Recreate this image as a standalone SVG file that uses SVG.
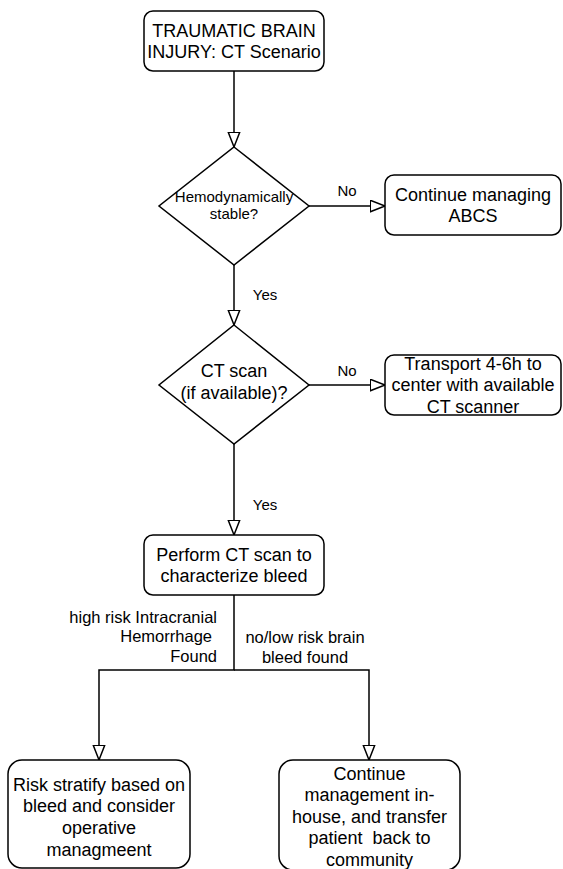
<svg xmlns="http://www.w3.org/2000/svg" width="563" height="869" viewBox="0 0 563 869">
<style>
text{font-family:"Liberation Sans",Arial,Helvetica,sans-serif;fill:#000;}
.n{font-size:18px;text-anchor:middle;}
.d{font-size:15px;text-anchor:middle;}
.e{font-size:15px;text-anchor:middle;}
.l{font-size:16.5px;}
.box{fill:#fff;stroke:#000;stroke-width:1.5;}
.edge{fill:none;stroke:#000;stroke-width:1.5;marker-end:url(#arr);}
</style>
<defs>
<marker id="arr" markerUnits="userSpaceOnUse" markerWidth="18" markerHeight="14" refX="15.5" refY="6.5" orient="auto" viewBox="0 0 18 14">
<path d="M0.75,0.75 L15.5,6.5 L0.75,12.25 Z" fill="#fff" stroke="#000" stroke-width="1.5"/>
</marker>
</defs>
<rect width="563" height="869" fill="#fff"/>
<g id="connectors">
<path class="edge" d="M234,71 V147"/>
<path class="edge" d="M234,265 V325"/>
<path class="edge" d="M309,206 H385"/>
<path class="edge" d="M309,385 H385"/>
<path class="edge" d="M234,444 V535"/>
<path class="edge" d="M234,595 V670 H99 V760"/>
<path class="edge" d="M234,670 H369 V760"/>
<text class="e" x="347" y="196">No</text>
<text class="e" x="347" y="376">No</text>
<text class="e" x="265" y="300">Yes</text>
<text class="e" x="265" y="510">Yes</text>
<text class="l" text-anchor="end" x="217" y="622.5">high risk Intracranial</text>
<text class="l" text-anchor="end" x="212" y="642">Hemorrhage</text>
<text class="l" text-anchor="end" x="217" y="661.5">Found</text>
<text class="l" text-anchor="middle" x="305" y="643">no/low risk brain</text>
<text class="l" text-anchor="middle" x="305" y="662.5">bleed found</text>
</g>
<g id="start">
<rect class="box" x="144" y="11" width="180" height="60" rx="9"/>
<text class="n" x="234" y="36.5">TRAUMATIC BRAIN</text>
<text class="n" x="234" y="58">INJURY: CT Scenario</text>
</g>
<g id="hemo">
<path class="box" d="M234,147 L309,206 L234,265 L159,206 Z"/>
<text class="d" x="234" y="201.5">Hemodynamically</text>
<text class="d" x="234" y="218.5">stable?</text>
</g>
<g id="abcs">
<rect class="box" x="385" y="175" width="176" height="60" rx="9"/>
<text class="n" x="473" y="200.5">Continue managing</text>
<text class="n" x="473" y="222">ABCS</text>
</g>
<g id="ctscan">
<path class="box" d="M234,325 L309,385 L234,444 L159,385 Z"/>
<text class="n" x="234" y="377">CT scan</text>
<text class="n" x="234" y="399">(if available)?</text>
</g>
<g id="transport">
<rect class="box" x="385" y="355" width="176" height="60" rx="9"/>
<text class="n" x="473" y="369.5">Transport 4-6h to</text>
<text class="n" x="473" y="391">center with available</text>
<text class="n" x="473" y="412.5">CT scanner</text>
</g>
<g id="perform">
<rect class="box" x="144" y="535" width="180" height="60" rx="9"/>
<text class="n" x="234" y="560.5">Perform CT scan to</text>
<text class="n" x="234" y="582">characterize bleed</text>
</g>
<g id="risk">
<rect class="box" x="8" y="760" width="182" height="108" rx="14"/>
<text class="n" x="99" y="790.5">Risk stratify based on</text>
<text class="n" x="99" y="812">bleed and consider</text>
<text class="n" x="99" y="834">operative</text>
<text class="n" x="99" y="855.5">managmeent</text>
</g>
<g id="continue">
<rect class="box" x="279" y="760" width="181" height="110" rx="14"/>
<text class="n" x="369.5" y="779.5">Continue</text>
<text class="n" x="369.5" y="801">management in-</text>
<text class="n" x="369.5" y="822.5">house, and transfer</text>
<text class="n" x="369.5" y="844" style="white-space:pre">patient  back to</text>
<text class="n" x="369.5" y="865.5">community</text>
</g>
</svg>
